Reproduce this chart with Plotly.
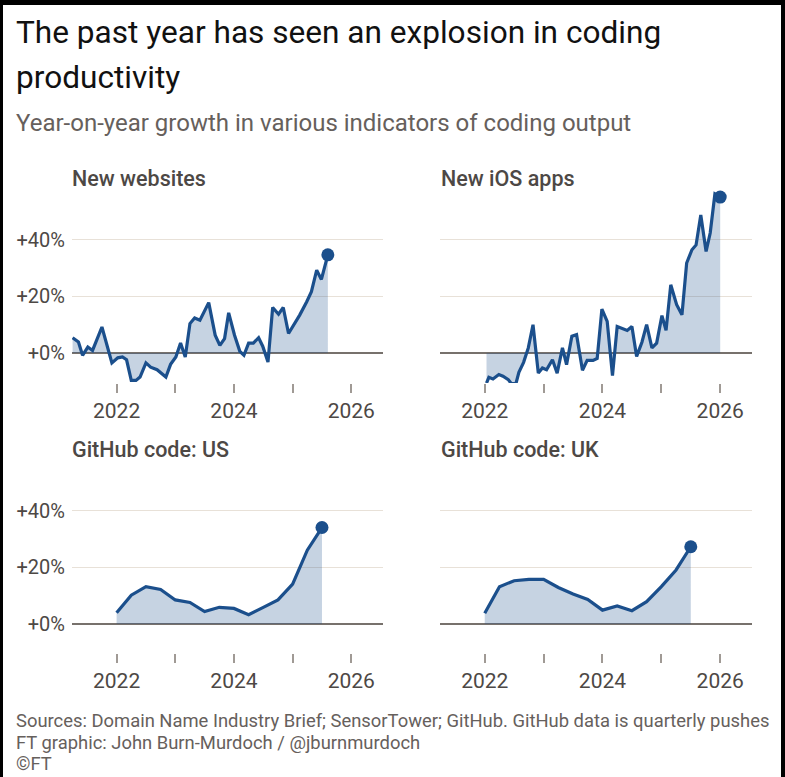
import plotly.graph_objects as go

# ---------------- data ----------------
web_x = [2021.25, 2021.35, 2021.42, 2021.51, 2021.59, 2021.75, 2021.92, 2022.02, 2022.10, 2022.17,
         2022.25, 2022.33, 2022.40, 2022.50, 2022.58, 2022.69, 2022.84, 2022.92, 2023.01, 2023.09,
         2023.17, 2023.25, 2023.33, 2023.42, 2023.57, 2023.68, 2023.76, 2023.84, 2023.91, 2024.01,
         2024.10, 2024.17, 2024.25, 2024.33, 2024.42, 2024.49, 2024.58, 2024.66, 2024.76, 2024.84,
         2024.93, 2025.01, 2025.12, 2025.24, 2025.32, 2025.41, 2025.49, 2025.60]
web_y = [5.4, 3.9, -0.8, 2.1, 0.9, 9.2, -3.5, -1.7, -1.4, -2.4,
         -9.7, -9.7, -8.5, -3.5, -5.0, -5.9, -8.5, -4.0, -1.4, 3.5,
         -1.4, 10.4, 12.4, 11.6, 17.8, 6.3, 2.7, 5.1, 14.2, 6.3,
         0.6, -0.8, 3.5, 3.5, 5.4, 2.4, -3.2, 16.1, 13.7, 16.1,
         6.9, 9.5, 13.4, 18.1, 21.7, 29.3, 26.0, 34.7]

ios_x = [2022.03, 2022.07, 2022.14, 2022.24, 2022.31, 2022.40, 2022.45, 2022.53, 2022.58, 2022.66,
         2022.74, 2022.82, 2022.91, 2022.98, 2023.05, 2023.15, 2023.23, 2023.32, 2023.39, 2023.48,
         2023.56, 2023.66, 2023.74, 2023.84, 2023.91, 2023.99, 2024.08, 2024.17, 2024.25, 2024.34,
         2024.42, 2024.50, 2024.58, 2024.67, 2024.75, 2024.84, 2024.92, 2025.01, 2025.08, 2025.16,
         2025.26, 2025.35, 2025.43, 2025.52, 2025.59, 2025.67, 2025.76, 2025.83, 2025.91, 2026.00]
ios_y = [-10.6, -8.6, -9.2, -7.6, -8.2, -9.4, -10.8, -10.8, -6.8, -3.3,
         1.8, 10.0, -7.1, -5.3, -5.9, -2.4, -7.1, 1.8, -4.1, 5.9,
         6.5, -6.1, -2.6, -2.6, -1.9, 15.5, 11.2, -8.0, 9.4, 8.8,
         8.0, 9.4, -1.2, 3.8, 10.0, 1.8, 3.5, 13.2, 8.0, 24.1,
         17.1, 13.5, 31.8, 36.5, 38.2, 48.8, 35.9, 42.4, 56.2, 55.1]

quarters = [2022.0, 2022.25, 2022.5, 2022.75, 2023.0, 2023.25, 2023.5, 2023.75,
            2024.0, 2024.25, 2024.5, 2024.75, 2025.0, 2025.25, 2025.5]
gh_us_y = [4.0, 10.2, 13.2, 12.2, 8.5, 7.6, 4.4, 5.9, 5.5, 3.3, 5.9, 8.5, 14.1, 26.1, 34.1]
gh_uk_y = [3.8, 13.2, 15.3, 15.8, 15.8, 12.9, 10.6, 8.7, 4.9, 6.4, 4.7, 7.9, 13.2, 19.1, 27.3]

panel_titles = ["New websites", "New iOS apps", "GitHub code: US", "GitHub code: UK"]
x_tickvals = [2022, 2023, 2024, 2025, 2026]
x_ticktext = ["2022", "", "2024", "", "2026"]
y_tickvals = [0, 20, 40]
y_ticktext = ["+0%", "+20%", "+40%"]

title_lines = ["The past year has seen an explosion in coding", "productivity"]
subtitle = "Year-on-year growth in various indicators of coding output"
footer_lines = ["Sources: Domain Name Industry Brief; SensorTower; GitHub. GitHub data is quarterly pushes",
                "FT graphic: John Burn-Murdoch / @jburnmurdoch",
                "©FT"]

# ---------------- style ----------------
W, H = 785, 777
FONT = "Roboto"
LINE = "#1b4f8c"
FILL = "rgba(27,79,140,0.25)"
GRID = "#e8e1d8"
ZERO = "#77716c"
TXT = "#4d4845"

def px(x):
    return x / W

def py(y):
    return 1 - y / H

fig = go.Figure()

series = [(web_x, web_y), (ios_x, ios_y), (quarters, gh_us_y), (quarters, gh_uk_y)]
for i, (xs, ys) in enumerate(series):
    ax = "" if i == 0 else str(i + 1)
    fig.add_trace(go.Scatter(x=xs, y=ys, mode="lines", fill="tozeroy", fillcolor=FILL,
                             line=dict(color=LINE, width=3.2), xaxis="x" + ax, yaxis="y" + ax,
                             hoverinfo="skip", showlegend=False))
    fig.add_trace(go.Scatter(x=[xs[-1]], y=[ys[-1]], mode="markers",
                             marker=dict(color=LINE, size=13), xaxis="x" + ax, yaxis="y" + ax,
                             hoverinfo="skip", showlegend=False))

xdom = [[px(72), px(383)], [px(440), px(752)]]
ydom_top = [py(383), py(188.9)]
ydom_bot = [py(653), py(459.9)]
yr_top = [-10.6, 58]
yr_bot = [-10.25, 58]

layout = dict(width=W, height=H, margin=dict(l=0, r=0, t=0, b=0),
              paper_bgcolor="white", plot_bgcolor="white",
              font=dict(family=FONT, color=TXT))

for i in range(4):
    ax = "" if i == 0 else str(i + 1)
    col = i % 2
    row = i // 2
    layout["xaxis" + ax] = dict(domain=xdom[col], range=[2021.24, 2026.54], anchor="y" + ax,
                                tickvals=x_tickvals, ticktext=x_ticktext, ticks="outside",
                                ticklen=9, tickwidth=1.5, tickcolor="#a09a95",
                                showgrid=False, zeroline=False, showline=False,
                                tickfont=dict(size=21, color=TXT, family=FONT))
    layout["yaxis" + ax] = dict(domain=ydom_top if row == 0 else ydom_bot,
                                range=yr_top if row == 0 else yr_bot, anchor="x" + ax,
                                tickvals=y_tickvals, ticktext=y_ticktext,
                                showticklabels=(col == 0), ticks="",
                                showgrid=True, gridcolor=GRID, gridwidth=1,
                                zeroline=True, zerolinecolor=ZERO, zerolinewidth=1.5,
                                showline=False, ticklabelstandoff=6,
                                tickfont=dict(size=20, color=TXT, family=FONT))

annotations = []
def ann(text, x, ytop, size, color, weight=400):
    annotations.append(dict(text=text, x=px(x), y=py(ytop), xref="paper", yref="paper",
                            xanchor="left", yanchor="top", showarrow=False,
                            font=dict(size=size, color=color, family=FONT, weight=weight)))

ann(title_lines[0], 14, 12, 31.6, "#111111")
ann(title_lines[1], 14, 56.5, 31.6, "#111111")
ann(subtitle, 14, 107, 24, "#66605c")
ann(panel_titles[0], 70, 163.5, 21.5, TXT, 500)
ann(panel_titles[1], 439, 163.5, 21.5, TXT, 500)
ann(panel_titles[2], 70, 434.5, 21.5, TXT, 500)
ann(panel_titles[3], 439, 434.5, 21.5, TXT, 500)
ann(footer_lines[0], 14, 708, 18.4, "#66605c")
ann(footer_lines[1], 14, 730, 18.4, "#66605c")
ann(footer_lines[2], 14, 751, 18.4, "#66605c")
layout["annotations"] = annotations

# screenshot frame (black edges)
layout["shapes"] = [
    dict(type="rect", xref="paper", yref="paper", x0=0, x1=1, y0=py(5), y1=1,
         fillcolor="black", line=dict(width=0), layer="above"),
    dict(type="rect", xref="paper", yref="paper", x0=0, x1=px(3), y0=0, y1=1,
         fillcolor="black", line=dict(width=0), layer="above"),
    dict(type="rect", xref="paper", yref="paper", x0=px(781), x1=1, y0=0, y1=1,
         fillcolor="black", line=dict(width=0), layer="above"),
]

fig.update_layout(**layout)
fig.write_html("out.html", config={"displayModeBar": False},
               post_script="document.body.style.margin='0';")
